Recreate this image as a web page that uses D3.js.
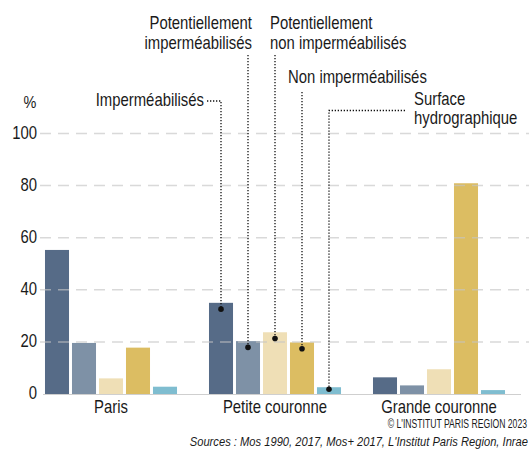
<!DOCTYPE html>
<html><head><meta charset="utf-8">
<script src="https://cdn.jsdelivr.net/npm/d3@7"></script>
<style>
body{margin:0;background:#fff;}
svg{display:block;font-family:"Liberation Sans",Arial,sans-serif;}
</style></head>
<body><svg id="c" width="529" height="450"></svg>
<script>
const groups = ["Paris", "Petite couronne", "Grande couronne"];
const seriesNames = ["Imperméabilisés", "Potentiellement imperméabilisés", "Potentiellement non imperméabilisés", "Non imperméabilisés", "Surface hydrographique"];
const paris = [55.3, 19.6, 6.0, 17.8, 2.8];
const petite = [35.0, 20.3, 23.7, 19.8, 2.6];
const grande = [6.4, 3.3, 9.5, 80.9, 1.5];
const yTicks = [0, 20, 40, 60, 80, 100];
const colors = ["#566b87", "#7e91a6", "#efdfb6", "#dcbd62", "#7fbdd0"];

const values = [paris, petite, grande];
const svg = d3.select("#c");
const FONT = "'Liberation Sans',Arial,sans-serif";
const y = d3.scaleLinear().domain([0, 100]).range([394, 133.5]);
const x0 = d3.scaleBand().domain(groups).range([29, 521]).paddingInner(0.195).paddingOuter(0.0975);
const x1 = d3.scaleBand().domain(seriesNames).range([0, x0.bandwidth()]).paddingInner(0.11).paddingOuter(0);

// condensed look: scale text horizontally around its anchor point
function condense(sel, f) {
  sel.each(function() {
    const t = d3.select(this);
    const x = +t.attr("x") || 0, yy = +t.attr("y") || 0;
    t.attr("transform", `translate(${x},${yy}) scale(${f},1) translate(${-x},${-yy})`);
  });
}

// bars
const g = svg.append("g");
groups.forEach((grp, gi) => {
  g.selectAll(null).data(values[gi]).enter().append("rect")
    .attr("x", (d, i) => x0(grp) + x1(seriesNames[i]))
    .attr("width", x1.bandwidth())
    .attr("y", d => y(d))
    .attr("height", d => y(0) - y(d))
    .attr("fill", (d, i) => colors[i]);
});

// gridlines (on top, light)
svg.append("g").selectAll("line").data(yTicks.filter(t => t > 0)).enter().append("line")
  .attr("x1", 40).attr("x2", 529)
  .attr("y1", d => y(d)).attr("y2", d => y(d))
  .attr("stroke", "#c4c4c4").attr("stroke-opacity", 0.65)
  .attr("stroke-width", 1.5).attr("stroke-dasharray", "11,7");

// baseline
svg.append("line").attr("x1", 43).attr("x2", 521).attr("y1", y(0)+0.5).attr("y2", y(0)+0.5)
  .attr("stroke", "#cfcfcf").attr("stroke-width", 1);

// y axis labels
const yAxis = d3.axisLeft(y).tickValues(yTicks).tickSize(0).tickPadding(0);
const ya = svg.append("g").attr("transform", "translate(37,0)").call(yAxis);
ya.select(".domain").remove();
ya.selectAll("text").attr("font-size", 17.5).attr("fill", "#1a1a1a").attr("font-family", FONT).attr("dy", "0.28em");
condense(ya.selectAll("text"), 0.85);
const pct = svg.append("text").attr("x", 30).attr("y", 108).attr("text-anchor", "middle")
  .attr("font-size", 17).attr("fill", "#1a1a1a").text("%");
condense(pct, 0.85);

// x axis labels
const xAxis = d3.axisBottom(x0).tickSize(0).tickPadding(0);
const xa = svg.append("g").attr("transform", `translate(0,${y(0)})`).call(xAxis);
xa.select(".domain").remove();
xa.selectAll("text").attr("font-size", 17.5).attr("fill", "#1a1a1a").attr("font-family", FONT)
  .attr("y", 19).attr("dy", 0);
condense(xa.selectAll("text"), 0.85);

// annotations for Petite couronne
const pc = groups[1];
const cx = i => x0(pc) + x1(seriesNames[i]) + x1.bandwidth() / 2;
const dotY = i => i === 4 ? y(petite[i]) + 2 : y(petite[i]) + 6.3;
const ann = svg.append("g");
function path(pts) {
  ann.append("path").attr("d", d3.line()(pts)).attr("fill", "none")
    .attr("stroke", "#111").attr("stroke-width", 1.3).attr("stroke-dasharray", "1.3,1.7");
}
path([[207, 101], [cx(0), 101], [cx(0), dotY(0)]]);
path([[cx(1), 55], [cx(1), dotY(1)]]);
path([[cx(2), 55], [cx(2), dotY(2)]]);
path([[cx(3), 92], [cx(3), dotY(3)]]);
path([[405, 110.5], [cx(4), 110.5], [cx(4), dotY(4)]]);
[0, 1, 2, 3, 4].forEach(i => {
  ann.append("circle").attr("cx", cx(i)).attr("cy", dotY(i)).attr("r", 2.8).attr("fill", "#111");
});

function label(xp, yp, lines, anchor, lh) {
  lines.forEach((l, k) => {
    const t = ann.append("text").attr("x", xp).attr("y", yp + k * lh).attr("text-anchor", anchor)
      .attr("font-size", 17.5).attr("fill", "#1a1a1a").text(l);
    condense(t, 0.85);
  });
}
label(204, 106, ["Imperméabilisés"], "end", 0);
label(252, 29.5, ["Potentiellement", "imperméabilisés"], "end", 19.5);
label(270, 29.5, ["Potentiellement", "non imperméabilisés"], "start", 19.5);
label(288, 83, ["Non imperméabilisés"], "start", 0);
label(414, 105.5, ["Surface", "hydrographique"], "start", 18.5);

// credits
const c1 = svg.append("text").attr("x", 527).attr("y", 428).attr("text-anchor", "end")
  .attr("font-size", 12.5).attr("fill", "#1a1a1a").text("© L'INSTITUT PARIS REGION 2023");
condense(c1, 0.69);
const c2 = svg.append("text").attr("x", 528).attr("y", 446).attr("text-anchor", "end")
  .attr("font-size", 13).attr("font-style", "italic").attr("fill", "#1a1a1a")
  .text("Sources : Mos 1990, 2017, Mos+ 2017, L'Institut Paris Region, Inrae");
condense(c2, 0.86);
</script></body></html>
